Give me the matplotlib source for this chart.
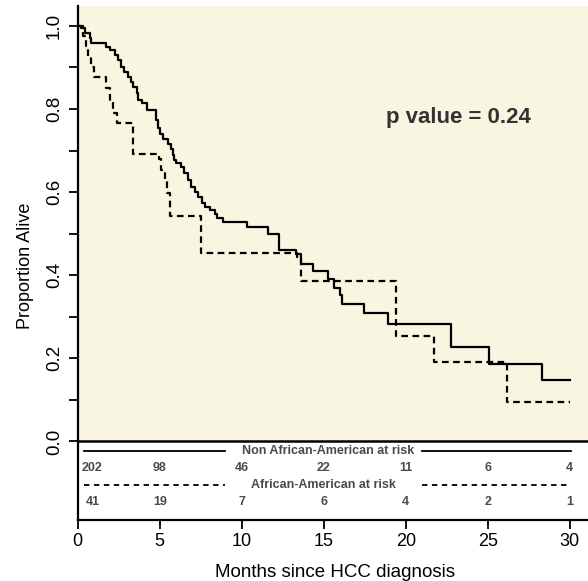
import numpy as np
import matplotlib
matplotlib.use("Agg")
import matplotlib.pyplot as plt

plt.rcParams['font.family'] = ['Liberation Sans', 'DejaVu Sans']

# Kaplan-Meier steps (months, proportion alive)
nonaa_t = [0, 0.23, 0.43, 0.73, 0.84, 1.7, 1.95, 2.26, 2.46, 2.67,
           2.8, 3.09, 3.25, 3.39, 3.6, 3.7, 3.9, 4.2, 4.77, 4.9,
           5.0, 5.2, 5.5, 5.7, 5.8, 5.9, 6.0, 6.3, 6.5, 6.7,
           6.9, 7.15, 7.35, 7.55, 7.75, 8.05, 8.35, 8.47, 8.87, 10.3,
           11.6, 12.3, 13.3, 13.6, 14.37, 15.25, 15.6, 16.0, 16.1, 17.45,
           18.9, 22.75, 25.05, 28.3]
nonaa_s = [1.0, 0.994, 0.982, 0.970, 0.958, 0.950, 0.942, 0.930, 0.918, 0.902,
           0.890, 0.878, 0.866, 0.854, 0.838, 0.822, 0.814, 0.798, 0.774, 0.755,
           0.741, 0.729, 0.717, 0.705, 0.690, 0.677, 0.669, 0.661, 0.645, 0.629,
           0.613, 0.600, 0.589, 0.573, 0.565, 0.556, 0.548, 0.537, 0.528, 0.517,
           0.500, 0.460, 0.452, 0.428, 0.410, 0.392, 0.370, 0.352, 0.332, 0.308,
           0.282, 0.227, 0.187, 0.149]

aa_t = [0, 0.3, 0.5, 0.65, 0.8, 1.0, 1.75, 1.95, 2.15, 2.4, 3.4,
        4.95, 5.05, 5.35, 5.45, 5.65, 7.5, 13.35, 13.6, 19.4, 21.7, 26.2]
aa_s = [1.0, 0.976, 0.951, 0.927, 0.902, 0.877, 0.850, 0.820, 0.790, 0.766, 0.693,
        0.680, 0.653, 0.629, 0.597, 0.542, 0.453, 0.444, 0.386, 0.255, 0.191, 0.095]

end_month = 30

# numbers at risk
months = [0, 5, 10, 15, 20, 25, 30]
risk_nonaa = [202, 98, 46, 22, 11, 6, 4]
risk_aa = [41, 19, 7, 6, 4, 2, 1]

p_text = "p value = 0.24"

cream = '#f8f5e1'
grey = '#4a4a4a'

fig = plt.figure(figsize=(5.88, 5.81), dpi=100)
ax = fig.add_axes([77.7 / 588, 61 / 581, 1 - 77.7 / 588, 514 / 581])
ax.set_xlim(0, (588 - 77.7) / 16.4)
ax.set_ylim(-0.189, 1.048)

ax.axhspan(0, 1.1, color=cream, zorder=0, lw=0)
ax.axhline(0, color='black', lw=1.8, zorder=3)

# survival curves
ax.step(np.append(nonaa_t, end_month), np.append(nonaa_s, nonaa_s[-1]),
        where='post', color='black', lw=1.6, zorder=4)
ax.step(np.append(aa_t, end_month), np.append(aa_s, aa_s[-1]),
        where='post', color='black', lw=1.6, ls=(0, (3, 2)), zorder=4)

ax.text(23.2, 0.78, p_text, ha='center', va='center', fontsize=16,
        fontweight='bold', color='#333333')

# at-risk table under the zero line
row_y = [-0.024, -0.065, -0.104, -0.145]
ax.plot([0.37, 9.0], [row_y[0]] * 2, color='black', lw=1.3)
ax.plot([21.0, 30.1], [row_y[0]] * 2, color='black', lw=1.3)
ax.text(15.3, row_y[0], "Non African-American at risk", ha='center', va='center',
        fontsize=9, fontweight='bold', color=grey)
ax.plot([0.37, 9.0], [row_y[2]] * 2, color='black', lw=1.3, ls=(0, (3, 2.5)))
ax.plot([21.0, 29.9], [row_y[2]] * 2, color='black', lw=1.3, ls=(0, (3, 2.5)))
ax.text(15.0, row_y[2], "African-American at risk", ha='center', va='center',
        fontsize=9, fontweight='bold', color=grey)
for m, a, b in zip(months, risk_nonaa, risk_aa):
    xm = max(m, 0.9)
    ax.text(xm, row_y[1], str(a), ha='center', va='center', fontsize=9,
            fontweight='bold', color=grey)
    ax.text(xm, row_y[3], str(b), ha='center', va='center', fontsize=9,
            fontweight='bold', color=grey)

# axes styling (R look)
for side in ['top', 'right']:
    ax.spines[side].set_visible(False)
for side in ['left', 'bottom']:
    ax.spines[side].set_linewidth(1.6)

ax.set_xticks(months)
ax.set_xticklabels([str(m) for m in months], fontsize=13)
ax.set_yticks([0, 0.2, 0.4, 0.6, 0.8, 1.0])
ax.set_yticklabels(['0.0', '0.2', '0.4', '0.6', '0.8', '1.0'], fontsize=13.5,
                   rotation=90, va='center')
ax.set_yticks([0.1, 0.3, 0.5, 0.7, 0.9], minor=True)
ax.tick_params(axis='both', which='both', length=6.5, width=1.3, color='black')
ax.tick_params(axis='x', pad=3)
ax.tick_params(axis='y', pad=4)

ax.set_xlabel("Months since HCC diagnosis", fontsize=13.5)
ax.xaxis.set_label_coords(0.504, -0.086)
ax.set_ylabel("Proportion Alive", fontsize=13)
ax.yaxis.set_label_coords(-0.086, 0.495)

plt.savefig('out.png', dpi=100)
plt.close()
